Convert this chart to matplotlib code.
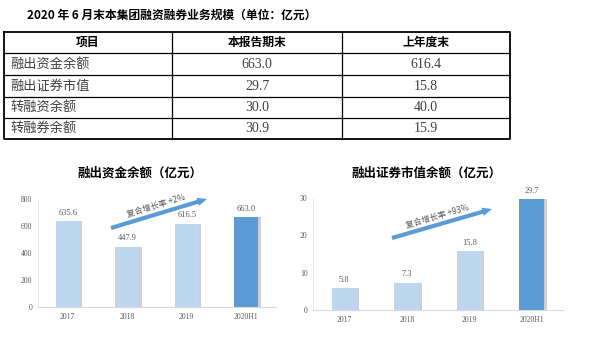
import numpy as np
import matplotlib.pyplot as plt

plt.rcParams['font.family'] = ['Noto Sans CJK SC', 'DejaVu Sans']

# table data
row_names = ['融出资金余额', '融出证券市值', '转融资余额', '转融券余额']
cur_period = [663.0, 29.7, 30.0, 30.9]
last_year = [616.4, 15.8, 40.0, 15.9]
col_heads = ['项目', '本报告期末', '上年度末']

# chart data
years = ['2017', '2018', '2019', '2020H1']
margin_funds = [635.6, 447.9, 616.5, 663.0]
lent_secs = [5.8, 7.3, 15.8, 29.7]

light = '#BDD7EE'
dark = '#5B9BD5'
grey_txt = '#595959'
serif = ['Liberation Serif', 'DejaVu Serif']

W, H = 606, 338
fig = plt.figure(figsize=(W / 100, H / 100), dpi=100)


def bar_chart(rect, vals, ymax, step):
    ax = fig.add_axes(rect)
    x = np.arange(len(vals))
    cols = [light] * (len(vals) - 1) + [dark]
    # soft shadow on the right edge
    ax.bar(x + 0.04, vals, width=0.4, color='#b0b0b0', alpha=0.6, zorder=1)
    ax.bar(x, vals, width=0.4, color=cols, zorder=2)
    for xi, v in zip(x, vals):
        ax.text(xi, v + ymax * 0.04, f'{v:.1f}', ha='center', va='bottom',
                fontsize=6, color=grey_txt, family=serif)
    ax.set_xlim(-0.5, len(vals) - 0.5)
    ax.set_ylim(0, ymax)
    ax.set_yticks(np.arange(0, ymax + 1, step))
    ax.set_xticks(x)
    ax.set_xticklabels(years)
    ax.tick_params(length=0, labelsize=5.5, colors=grey_txt, pad=4)
    for lab in ax.get_xticklabels() + ax.get_yticklabels():
        lab.set_family(serif)
    for s in ['top', 'right']:
        ax.spines[s].set_visible(False)
    ax.spines['left'].set_color('#e6e6e6')
    ax.spines['bottom'].set_color('#d9d9d9')
    ax.spines['left'].set_linewidth(0.6)
    ax.spines['bottom'].set_linewidth(0.8)
    return ax


bar_chart([38 / W, (H - 307) / H, 238 / W, 108 / H], margin_funds, 800, 200)
bar_chart([313 / W, (H - 310) / H, 250 / W, 112 / H], lent_secs, 30, 10)

# overlay in pixel coordinates for table, titles and arrows
bg = fig.add_axes([0, 0, 1, 1])
bg.set_xlim(0, W)
bg.set_ylim(H, 0)
bg.axis('off')
bg.patch.set_visible(False)

# heading
bg.text(27, 15, '2020 年 6 月末本集团融资融券业务规模（单位：亿元）',
        fontsize=8.5, fontweight='bold', va='center', ha='left')

# table grid
xs = [4, 172, 342, 510]
ys = [32, 53, 75, 97, 118, 139]
bg.plot([xs[0], xs[-1], xs[-1], xs[0], xs[0]], [ys[0], ys[0], ys[-1], ys[-1], ys[0]],
        color='black', lw=1.3)
for y in ys[1:-1]:
    bg.plot([xs[0], xs[-1]], [y, y], color='black', lw=0.9)
for x in xs[1:-1]:
    bg.plot([x, x], [ys[0], ys[-1]], color='black', lw=0.9)

for j, h in enumerate(col_heads):
    bg.text((xs[j] + xs[j + 1]) / 2, (ys[0] + ys[1]) / 2, h, fontsize=8.5,
            fontweight='bold', ha='center', va='center')
for i, name in enumerate(row_names):
    yc = (ys[i + 1] + ys[i + 2]) / 2
    bg.text(xs[0] + 6, yc, name, fontsize=9.5, ha='left', va='center', color='#404040')
    bg.text((xs[1] + xs[2]) / 2, yc, f'{cur_period[i]:.1f}', fontsize=10,
            ha='center', va='center', color='#404040', family=serif)
    bg.text((xs[2] + xs[3]) / 2, yc, f'{last_year[i]:.1f}', fontsize=10,
            ha='center', va='center', color='#404040', family=serif)

# chart titles
bg.text(140, 173, '融出资金余额（亿元）', fontsize=9, fontweight='bold',
        ha='center', va='center')
bg.text(427, 173, '融出证券市值余额（亿元）', fontsize=9, fontweight='bold',
        ha='center', va='center')

# growth arrows
for (x0, y0, x1, y1, txt, tx, ty) in [(111, 228, 207, 199, '复合增长率 +2%', 156, 206),
                                      (392, 238, 492, 209, '复合增长率 +93%', 437, 216)]:
    bg.annotate('', xy=(x1, y1), xytext=(x0, y0),
                arrowprops=dict(arrowstyle='simple,head_width=0.6,head_length=0.7,tail_width=0.3',
                                color=dark, lw=0, shrinkA=0, shrinkB=0))
    ang = np.degrees(np.arctan2(y0 - y1, x1 - x0))
    bg.text(tx, ty, txt, rotation=ang, rotation_mode='anchor', ha='center', va='center',
            fontsize=6, color=grey_txt, family=['Noto Sans CJK SC', 'DejaVu Serif'])

fig.savefig('out.png', dpi=100)
